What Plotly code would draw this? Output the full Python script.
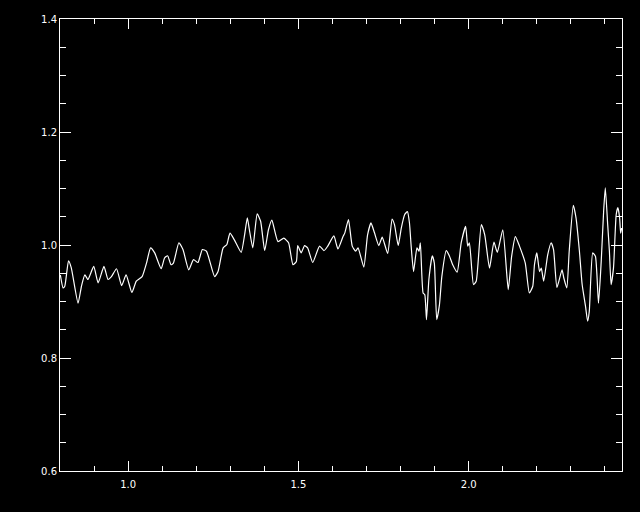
import plotly.graph_objects as go

wavelength = [0.801, 0.809, 0.814, 0.825, 0.833, 0.853, 0.863, 0.873, 0.882, 0.899,
              0.912, 0.929, 0.941, 0.951, 0.966, 0.981, 0.994, 1.011, 1.024, 1.041,
              1.054, 1.066, 1.078, 1.097, 1.107, 1.116, 1.126, 1.133, 1.149, 1.161,
              1.178, 1.192, 1.205, 1.218, 1.230, 1.254, 1.264, 1.279, 1.290, 1.299,
              1.312, 1.332, 1.342, 1.350, 1.356, 1.366, 1.379, 1.389, 1.401, 1.412,
              1.422, 1.440, 1.457, 1.471, 1.484, 1.494, 1.498, 1.508, 1.518, 1.527,
              1.542, 1.562, 1.575, 1.586, 1.604, 1.616, 1.631, 1.636, 1.647, 1.658,
              1.668, 1.675, 1.692, 1.703, 1.713, 1.723, 1.736, 1.746, 1.762, 1.775,
              1.782, 1.793, 1.802, 1.812, 1.820, 1.826, 1.831, 1.838, 1.848, 1.854,
              1.858, 1.866, 1.871, 1.876, 1.883, 1.893, 1.899, 1.906, 1.914, 1.921,
              1.934, 1.943, 1.953, 1.966, 1.978, 1.991, 1.997, 2.002, 2.014, 2.022,
              2.037, 2.047, 2.061, 2.074, 2.084, 2.100, 2.116, 2.126, 2.137, 2.149,
              2.166, 2.178, 2.188, 2.193, 2.200, 2.208, 2.213, 2.220, 2.232, 2.242,
              2.249, 2.259, 2.274, 2.279, 2.288, 2.295, 2.307, 2.315, 2.325, 2.333,
              2.343, 2.349, 2.354, 2.364, 2.372, 2.381, 2.389, 2.396, 2.401, 2.408,
              2.413, 2.418, 2.425, 2.433, 2.438, 2.443, 2.446, 2.449]

ratio = [0.947, 0.924, 0.927, 0.972, 0.960, 0.897, 0.927, 0.947, 0.939, 0.962,
         0.933, 0.962, 0.939, 0.944, 0.958, 0.928, 0.947, 0.916, 0.936, 0.944,
         0.968, 0.995, 0.986, 0.958, 0.977, 0.981, 0.965, 0.968, 1.004, 0.992,
         0.956, 0.974, 0.969, 0.992, 0.989, 0.944, 0.953, 0.995, 1.001, 1.021,
         1.009, 0.987, 1.018, 1.048, 1.027, 0.995, 1.055, 1.042, 0.990, 1.027,
         1.044, 1.006, 1.012, 1.004, 0.965, 0.971, 0.999, 0.986, 0.999, 0.995,
         0.969, 0.998, 0.990, 0.998, 1.016, 0.993, 1.015, 1.021, 1.045, 0.998,
         0.989, 0.995, 0.961, 1.018, 1.039, 1.022, 0.999, 1.014, 0.985, 1.046,
         1.036, 0.999, 1.030, 1.054, 1.059, 1.039, 0.998, 0.953, 0.995, 0.989,
         1.004, 0.915, 0.912, 0.868, 0.939, 0.981, 0.968, 0.868, 0.894, 0.944,
         0.990, 0.981, 0.965, 0.952, 1.004, 1.033, 0.998, 1.004, 0.930, 0.936,
         1.036, 1.018, 0.959, 1.005, 0.987, 1.027, 0.921, 0.980, 1.015, 0.998,
         0.968, 0.915, 0.927, 0.965, 0.986, 0.953, 0.959, 0.936, 0.983, 1.004,
         0.992, 0.925, 0.956, 0.942, 0.924, 0.989, 1.070, 1.048, 0.989, 0.930,
         0.891, 0.865, 0.883, 0.986, 0.980, 0.897, 0.971, 1.059, 1.101, 1.036,
         0.989, 0.930, 0.959, 1.054, 1.066, 1.048, 1.021, 1.030]

x_ticks = [1.0, 1.5, 2.0]
x_tick_labels = ["1.0", "1.5", "2.0"]
y_ticks = [0.6, 0.8, 1.0, 1.2, 1.4]
y_tick_labels = ["0.6", "0.8", "1.0", "1.2", "1.4"]

fig = go.Figure()
fig.add_trace(go.Scatter(
    x=wavelength, y=ratio, mode="lines",
    line=dict(color="white", width=1.2, shape="spline", smoothing=0.5),
    hoverinfo="skip", showlegend=False,
))

axis_common = dict(
    showgrid=False, zeroline=False, showline=True, linecolor="white", linewidth=1,
    mirror="ticks", ticks="inside", tickcolor="white", tickwidth=1,
    tickfont=dict(family="DejaVu Sans", size=10, color="white"),
)

fig.update_xaxes(
    range=[0.8, 2.45], tickmode="array", tickvals=x_ticks, ticktext=x_tick_labels,
    ticklen=10, ticklabelstandoff=4,
    minor=dict(dtick=0.1, tick0=0.8, ticks="inside", ticklen=5, tickcolor="white", tickwidth=1, showgrid=False),
    **axis_common,
)
fig.update_yaxes(
    range=[0.6, 1.4], tickmode="array", tickvals=y_ticks, ticktext=y_tick_labels,
    ticklen=11,
    minor=dict(dtick=0.05, tick0=0.6, ticks="inside", ticklen=6, tickcolor="white", tickwidth=1, showgrid=False),
    **axis_common,
)

fig.update_layout(
    width=640, height=512,
    margin=dict(l=60, r=18, t=19, b=41),
    paper_bgcolor="black", plot_bgcolor="black",
)

fig.write_html(
    "out.html",
    config={"displayModeBar": False},
    post_script="document.body.style.margin='0';document.body.style.background='black';document.body.style.overflow='hidden';",
)
